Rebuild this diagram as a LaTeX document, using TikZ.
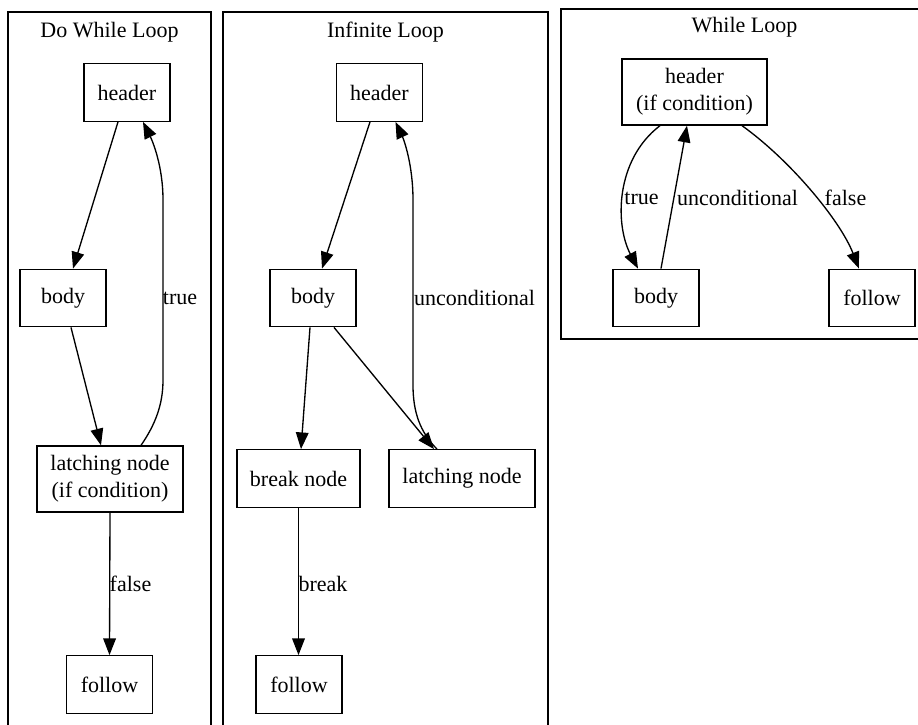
\documentclass[tikz,border=0pt]{standalone}
\usepackage{fontspec}
\setmainfont{Liberation Serif}
\usetikzlibrary{arrows.meta}
\begin{document}
\begin{tikzpicture}[x=0.75pt,y=-0.75pt,
  txt/.style={font=\fontsize{16.5}{20}\selectfont},
  box/.style={txt, draw, line width=1pt, minimum width=64.5pt,
    minimum height=43.1pt, inner sep=0pt, align=center},
  lbl/.style={txt, inner sep=0pt},
  cluster/.style={draw, line width=1pt},
  edge/.style={line width=1pt, -{Triangle[length=12.5pt,width=9.5pt]}}
]
\useasboundingbox (0,0) rectangle (918,725);
\clip (0,0) rectangle (918,725);

% cluster frames
\draw[cluster] (8,12) rectangle (211,745);
\draw[cluster] (223,12) rectangle (548,745);
\draw[cluster] (561,9) rectangle (928,339);

% --- Do While Loop ---
\node[lbl] (t1) at (109.5,32) {Do While Loop};
\node[box] (h1) at (127,92.5) {header};
\node[box] (b1) at (63,298) {body};
\node[box, minimum width=109.5pt, minimum height=49.5pt] (l1) at (110,479) {latching node\\(if condition)};
\node[box] (f1) at (109.5,684.5) {follow};

\draw[edge] ([shift={(-9,0)}]h1.south) -- ([shift={(10,0)}]b1.north);
\draw[edge] ([shift={(8,0)}]b1.south) -- ([shift={(-9,0)}]l1.north);
\draw[edge] ([shift={(31,0)}]l1.north) .. controls (155,425) and (163,405) .. (163,380)
  -- (163,200) .. controls (163,165) and (152,140) .. ([shift={(16,0)}]h1.south);
\node[lbl] (e1) at (180,298) {true};
\draw[edge] (l1.south) -- (f1.north);
\node[lbl] (e2) at (130.5,584) {false};

% --- Infinite Loop ---
\node[lbl] (t2) at (385.5,32) {Infinite Loop};
\node[box] (h2) at (379.5,92.5) {header};
\node[box] (b2) at (313,298) {body};
\node[box, minimum width=92.25pt] (k2) at (298.5,478.5) {break node};
\node[box, minimum width=109.5pt] (l2) at (462,478.5) {latching node};
\node[box] (f2) at (299,684.5) {follow};

\draw[edge] ([shift={(-9.5,0)}]h2.south) -- ([shift={(9,0)}]b2.north);
\draw[edge] ([shift={(-3,0)}]b2.south) -- ([shift={(2.5,0)}]k2.north);
\draw[edge] ([shift={(21,0)}]b2.south) -- ([shift={(-28,0)}]l2.north);
\draw[edge] ([shift={(-25,0)}]l2.north) .. controls (420,432) and (413,412) .. (413,385)
  -- (413,200) .. controls (413,165) and (404,140) .. ([shift={(16,0)}]h2.south);
\node[lbl] (e3) at (474.5,298) {unconditional};
\draw[edge] (k2.south) -- (k2.south |- f2.north);
\node[lbl] (e4) at (323,584) {break};

% --- While Loop ---
\node[lbl] (t3) at (744.5,27) {While Loop};
\node[box, minimum width=108.75pt, minimum height=49.5pt] (h3) at (694.5,92) {header\\(if condition)};
\node[box] (b3) at (656,298) {body};
\node[box] (f3) at (872,298) {follow};

\draw[edge] ([shift={(-34.5,0)}]h3.south) .. controls (615,160) and (615,225) .. ([shift={(-18,0)}]b3.north);
\node[lbl] (e5) at (641.5,198) {true};
\draw[edge] ([shift={(5,0)}]b3.north) -- ([shift={(-7.5,0)}]h3.south);
\node[lbl] (e6) at (737.5,198) {unconditional};
\draw[edge] ([shift={(47.5,0)}]h3.south) .. controls (790,160) and (840,220) .. ([shift={(-13,0)}]f3.north);
\node[lbl] (e7) at (845.5,198) {false};
\end{tikzpicture}
\end{document}
